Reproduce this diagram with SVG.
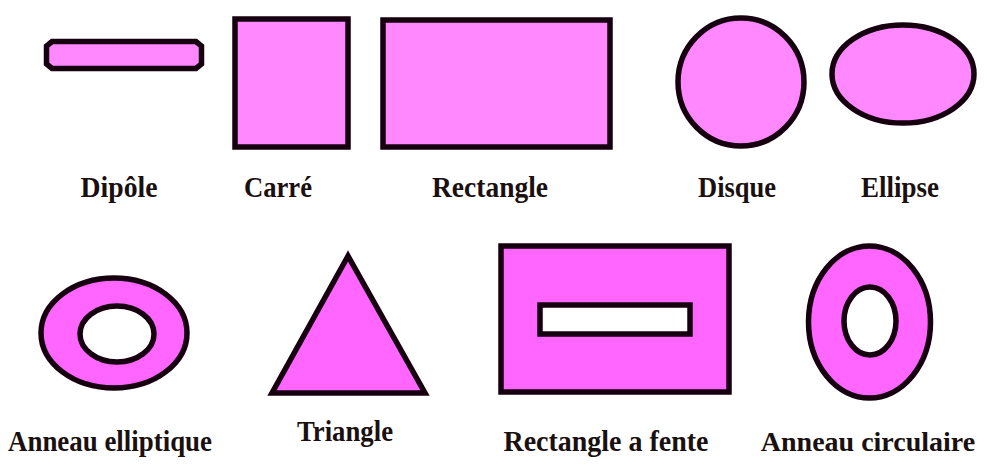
<svg xmlns="http://www.w3.org/2000/svg" width="987" height="465" viewBox="0 0 987 465">
<style>
.s{fill:#ff88ff;stroke:#160010;stroke-width:5.5}
.b{fill:#ff66ff;stroke:#160010;stroke-width:5.5}
.h{fill:#ffffff;stroke:#160010;stroke-width:5.5}
.t{font-family:"Liberation Serif","Times New Roman",serif;font-weight:bold;font-size:30px;fill:#1a1010;text-anchor:middle}
</style>
<rect width="987" height="465" fill="#ffffff"/>
<g id="dipole">
<path class="s" d="M52,41.5 H196 L201.5,46 V64 L196,68.5 H52 L46.5,64 V46 Z"/>
<text class="t" x="119" y="197" textLength="77" lengthAdjust="spacingAndGlyphs">Dipôle</text>
</g>
<g id="carre">
<rect class="s" x="235" y="19" width="113" height="128"/>
<text class="t" x="278" y="197" textLength="68" lengthAdjust="spacingAndGlyphs">Carré</text>
</g>
<g id="rectangle">
<rect class="s" x="383" y="20" width="227" height="127"/>
<text class="t" x="490" y="197" textLength="116" lengthAdjust="spacingAndGlyphs">Rectangle</text>
</g>
<g id="disque">
<ellipse class="s" cx="741" cy="82" rx="63" ry="64"/>
<text class="t" x="737" y="197" textLength="78" lengthAdjust="spacingAndGlyphs">Disque</text>
</g>
<g id="ellipse">
<ellipse class="s" cx="903" cy="74" rx="71" ry="49"/>
<text class="t" x="900" y="197" textLength="78" lengthAdjust="spacingAndGlyphs">Ellipse</text>
</g>
<g id="anneau-elliptique">
<ellipse class="b" cx="114" cy="333" rx="73" ry="55"/>
<ellipse class="h" cx="117" cy="334" rx="37" ry="28"/>
<text class="t" x="110" y="451" textLength="204" lengthAdjust="spacingAndGlyphs">Anneau elliptique</text>
</g>
<g id="triangle">
<polygon class="b" points="348,256 272,393 425,393" stroke-linejoin="miter"/>
<text class="t" x="345" y="441" textLength="96" lengthAdjust="spacingAndGlyphs">Triangle</text>
</g>
<g id="rectangle-a-fente">
<rect class="b" x="501" y="246" width="228" height="146"/>
<rect class="h" x="540" y="305" width="150" height="29"/>
<text class="t" x="606" y="451" textLength="205" lengthAdjust="spacingAndGlyphs">Rectangle a fente</text>
</g>
<g id="anneau-circulaire">
<ellipse class="b" cx="869.5" cy="322" rx="61" ry="76"/>
<ellipse class="h" cx="870" cy="321" rx="26" ry="34"/>
<text class="t" x="868" y="451" style="font-size:28px">Anneau circulaire</text>
</g>
<g id="connectors"/>
</svg>
